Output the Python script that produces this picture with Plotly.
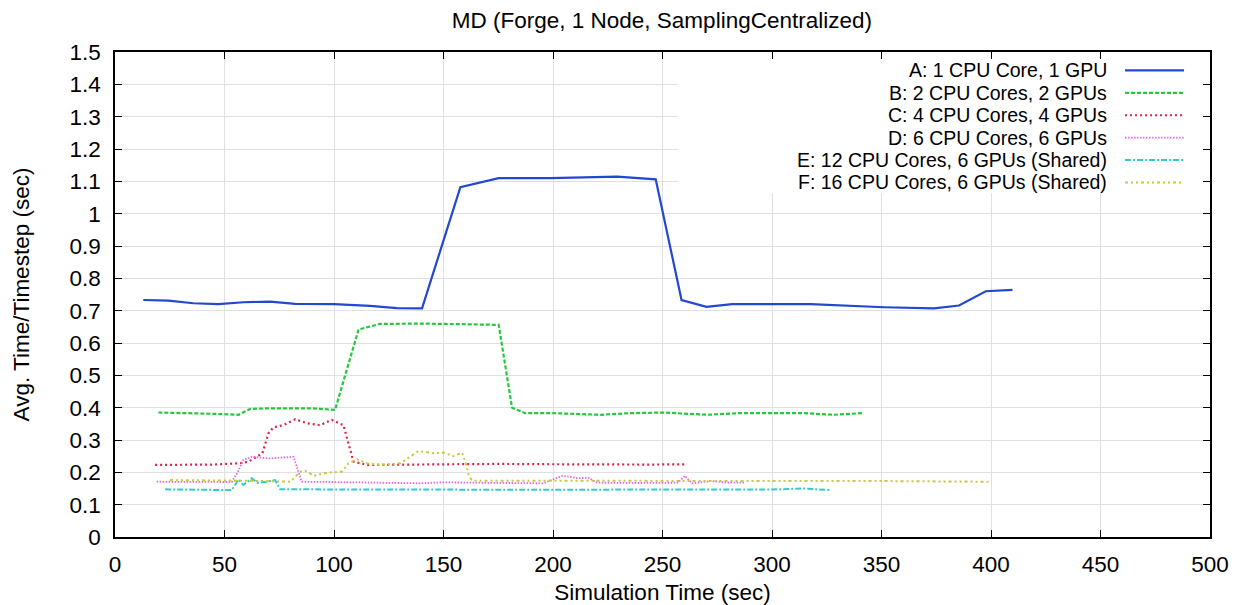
import plotly.graph_objects as go

# ---------------- data ----------------
a_x = [12.9, 24.4, 35.8, 47.2, 58.7, 70.8, 82.3, 100, 116.5, 128.7, 140.2, 157.7, 175.2, 198.7,
       229.3, 246.9, 258.7, 270.1, 281.8, 317.6, 351.2, 374.0, 385.4, 397.6, 409.8]
a_y = [0.733, 0.731, 0.723, 0.720, 0.726, 0.728, 0.721, 0.720, 0.715, 0.708, 0.707, 1.082, 1.110, 1.110,
       1.1145, 1.106, 0.733, 0.712, 0.720, 0.720, 0.7105, 0.707, 0.716, 0.760, 0.764]

b_x = [19.8, 30, 45, 56.4, 61.7, 70, 78.5, 90, 100.5, 111.2, 121.1, 140, 160, 175.2, 181.3, 187.4,
       200, 221.7, 235, 250.5, 270.4, 285, 297.8, 315, 328, 341.3]
b_y = [0.385, 0.384, 0.381, 0.378, 0.396, 0.398, 0.398, 0.398, 0.393, 0.642, 0.659, 0.660, 0.658, 0.656,
       0.400, 0.383, 0.383, 0.378, 0.383, 0.385, 0.378, 0.383, 0.383, 0.383, 0.378, 0.383]

c_x = [18.3, 30, 45, 57.1, 60.9, 67.3, 70.1, 72.3, 76.9, 82.3, 87.6, 93.7, 99, 104.3, 106.6, 108.9,
       115, 130, 150, 175, 200, 225, 245, 261.3]
c_y = [0.223, 0.223, 0.224, 0.228, 0.233, 0.259, 0.321, 0.339, 0.346, 0.364, 0.352, 0.346, 0.362, 0.346,
       0.290, 0.233, 0.223, 0.224, 0.225, 0.226, 0.225, 0.224, 0.224, 0.225]

d_x = [19, 35, 53.3, 56, 58.6, 62.5, 70.8, 81.5, 83.5, 85.3, 100, 120, 139.4, 150, 175, 195.7, 200,
       204.2, 208, 211, 216.3, 220.1, 240, 257, 260.2, 263.5, 272, 280, 287.2]
d_y = [0.171, 0.171, 0.170, 0.200, 0.238, 0.248, 0.243, 0.248, 0.210, 0.171, 0.170, 0.168, 0.166, 0.169,
       0.167, 0.166, 0.178, 0.189, 0.186, 0.182, 0.183, 0.168, 0.167, 0.168, 0.189, 0.166, 0.173, 0.168, 0.168]

e_x = [22.9, 35, 53.3, 56.4, 58.6, 62.5, 64.8, 69.3, 73.1, 75.4, 100, 150, 200, 250, 300, 315, 327]
e_y = [0.1475, 0.147, 0.145, 0.178, 0.161, 0.1815, 0.168, 0.171, 0.176, 0.1475, 0.147, 0.147, 0.146,
       0.147, 0.147, 0.150, 0.145]

f_x = [25.1, 40, 60, 80, 84.6, 87.6, 90.6, 96.7, 103.6, 106.6, 110.5, 115, 121.1, 130.3, 134.8, 138.6,
       145.5, 150, 154.5, 158.5, 160, 161.5, 163, 200, 250, 300, 350, 399]
f_y = [0.176, 0.176, 0.174, 0.171, 0.202, 0.204, 0.189, 0.199, 0.202, 0.228, 0.240, 0.228, 0.223, 0.228,
       0.250, 0.266, 0.259, 0.261, 0.250, 0.261, 0.233, 0.192, 0.174, 0.174, 0.174, 0.174, 0.173, 0.171]

labels = [
    "A: 1 CPU Core, 1 GPU",
    "B: 2 CPU Cores, 2 GPUs",
    "C: 4 CPU Cores, 4 GPUs",
    "D: 6 CPU Cores, 6 GPUs",
    "E: 12 CPU Cores, 6 GPUs (Shared)",
    "F: 16 CPU Cores, 6 GPUs (Shared)",
]
title = "MD (Forge, 1 Node, SamplingCentralized)"
x_title = "Simulation Time (sec)"
y_title = "Avg. Time/Timestep (sec)"
x_range = [0, 500]
y_range = [0, 1.5]

# ---------------- styles ----------------
styles = [
    dict(color="#2447d0", width=2.2, dash="solid"),
    dict(color="#22c93c", width=2.2, dash="4px,2px"),
    dict(color="#dc2448", width=2.2, dash="2px,3px"),
    dict(color="#e068e0", width=1.8, dash="1.5px,1.5px"),
    dict(color="#33cccc", width=2.0, dash="6px,2px,2px,2px"),
    dict(color="#c8c83a", width=2.0, dash="3px,3px,2px,3px,2px,3px"),
]
series = [(a_x, a_y), (b_x, b_y), (c_x, c_y), (d_x, d_y), (e_x, e_y), (f_x, f_y)]

FONT = "Liberation Sans, Arial, Helvetica, sans-serif"
FS = 22.5
KEY_FS = 19.5

fig = go.Figure()
for (xs, ys), lab, st in zip(series, labels, styles):
    fig.add_trace(go.Scatter(x=xs, y=ys, mode="lines", name=lab, line=st, showlegend=False))

# ---------------- manual gnuplot-style key ----------------
def xfrac(f):
    return x_range[0] + f * (x_range[1] - x_range[0])

def yfrac(f):
    return y_range[0] + f * (y_range[1] - y_range[0])

shapes = [dict(type="rect", xref="x", yref="y", x0=xfrac(0.514), x1=xfrac(1.0),
               y0=yfrac(0.709), y1=yfrac(1.0),
               fillcolor="white", line=dict(width=0), layer="between")]
annotations = []
row0 = 0.962
step = 0.0462
for i, (lab, st) in enumerate(zip(labels, styles)):
    yy = row0 - i * step
    annotations.append(dict(xref="paper", yref="paper", x=0.9078, y=yy, text=lab, showarrow=False,
                            xanchor="right", yanchor="middle",
                            font=dict(family=FONT, size=KEY_FS, color="black")))
    shapes.append(dict(type="line", xref="paper", yref="paper", x0=0.9224, x1=0.9763, y0=yy, y1=yy,
                       line=dict(color=st["color"], width=st["width"], dash=st["dash"]), layer="above"))

axis_common = dict(
    showgrid=True, gridcolor="#e0e0e0", gridwidth=1,
    showline=True, linecolor="black", linewidth=1.5, mirror="ticks",
    ticks="inside", ticklen=7, tickcolor="black", tickwidth=1,
    zeroline=False, tickfont=dict(family=FONT, size=FS, color="black"),
)

fig.update_layout(
    width=1236, height=605,
    margin=dict(l=115, r=26, t=52, b=68, autoexpand=False),
    paper_bgcolor="white", plot_bgcolor="white",
    title=dict(text=title, x=0.5355, xanchor="center", y=1 - 20 / 605, yanchor="middle",
               font=dict(family=FONT, size=FS, color="black")),
    xaxis=dict(range=x_range, tick0=0, dtick=50,
               title=dict(text=x_title, standoff=10, font=dict(family=FONT, size=FS, color="black")),
               ticklabelstandoff=6, **axis_common),
    yaxis=dict(range=y_range, tick0=0, dtick=0.1,
               title=dict(text=y_title, standoff=34, font=dict(family=FONT, size=FS, color="black")),
               ticklabelstandoff=8, **axis_common),
    shapes=shapes,
    annotations=annotations,
    showlegend=False,
)

fig.write_html("out.html")
